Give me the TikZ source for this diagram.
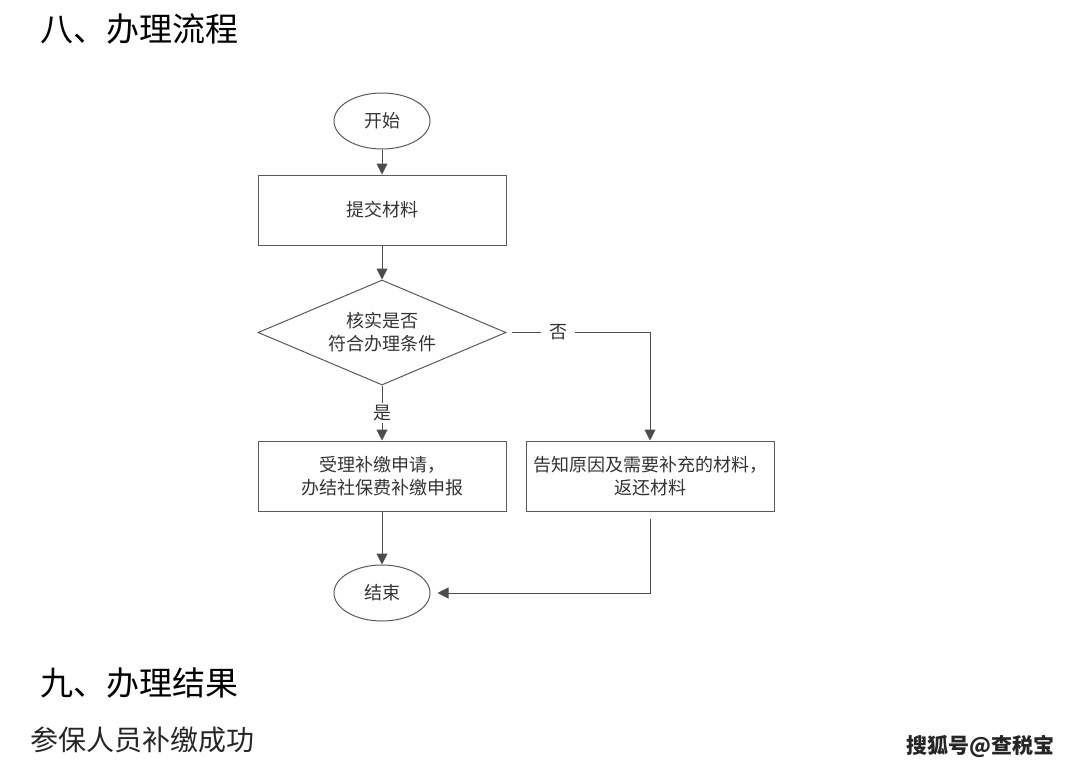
\documentclass[tikz,border=0pt]{standalone}
\usepackage{fontspec}
\setmainfont{Noto Sans CJK SC}
\usetikzlibrary{shapes.geometric, positioning, arrows.meta}
\tikzset{
	>={Triangle[width=5.5pt,length=5.5pt]}, % filled arrow heads
	every node/.style={font=\fontsize{9pt}{11.5pt}\selectfont, text=black!80}, % text inside the chart
	terminal/.style={ellipse, draw=black!65, line width=0.5pt, minimum width=48pt, minimum height=28pt}, % start and end
	process/.style={rectangle, draw=black!65, line width=0.5pt, minimum width=124pt, minimum height=35pt, align=center},
	decision/.style={diamond, draw=black!65, line width=0.5pt, aspect=2.36, minimum width=124pt, minimum height=52.5pt, inner sep=0pt, align=center},
	flow/.style={->, draw=black!70, line width=0.5pt}, % connectors
	heading/.style={font=\fontsize{16.5pt}{20pt}\selectfont, text=black, anchor=west, inner sep=0pt},
}
\begin{document}
\begin{tikzpicture}[x=0.5pt, y=-0.5pt]
	\useasboundingbox (0,0) rectangle (1080,771);
	\node[heading] (title8) at (40,29) {八、办理流程};
			\node[terminal] (start) at (382,121) {开始};
			\node[process, below=12.5pt of start] (submit) {提交材料};
			\node[decision, below=17pt of submit] (check) {核实是否\\符合办理条件};
			\node[process, below=27.5pt of check] (accept) {受理补缴申请，\\办结社保费补缴申报};
			\node[process, right=9.5pt of accept] (notify) {告知原因及需要补充的材料，\\返还材料};
			\node[terminal, below=26.5pt of accept] (finish) {结束};
	\draw[flow] (start) -- (submit);
	\draw[flow] (submit) -- (check);
	\draw[flow] (check) -- node[fill=white, inner sep=1pt] {是} (accept);
	\draw[flow, shorten <=2.5pt] (check.east) -| node[pos=0.18, fill=white, inner xsep=4pt, inner ysep=1pt] {否} (notify.north);
	\draw[flow, shorten <=3.5pt, shorten >=3.5pt] (notify.south) |- (finish.east);
	\draw[flow] (accept) -- (finish);
	\node[heading] (title9) at (40,683) {九、办理结果};
	\node[font=\fontsize{14pt}{17pt}\selectfont, text=black!85, anchor=west, inner sep=0pt] (result) at (30,740) {参保人员补缴成功};
	\node[font=\bfseries\fontsize{10.5pt}{13pt}\selectfont, text=black!85, anchor=east, inner sep=0pt] (mark) at (1055,746) {搜狐号@查税宝};
\end{tikzpicture}
\end{document}
